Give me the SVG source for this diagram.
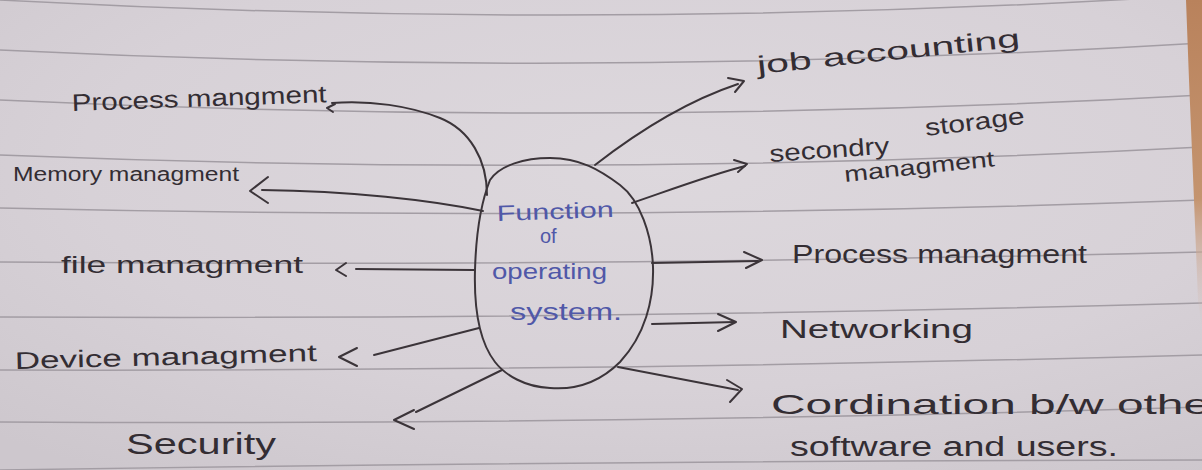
<svg xmlns="http://www.w3.org/2000/svg" width="1202" height="470" viewBox="0 0 1202 470">
  <defs>
    <radialGradient id="paper" cx="0.55" cy="0.35" r="0.8">
      <stop offset="0" stop-color="#ddd8dd"/>
      <stop offset="0.6" stop-color="#d7d1d7"/>
      <stop offset="1" stop-color="#cdc7cd"/>
    </radialGradient>
    <linearGradient id="edge" x1="0" y1="0" x2="0" y2="1">
      <stop offset="0" stop-color="#b9825c"/>
      <stop offset="0.6" stop-color="#c4946f"/>
      <stop offset="1" stop-color="#d6c3bf" stop-opacity="0"/>
    </linearGradient>
    <style>
      .rule { fill: none; stroke: #a39da4; stroke-width: 1.5; }
      .ink { font-family: "Liberation Sans", "DejaVu Sans", sans-serif; fill: #332d33; }
      .blue { font-family: "Liberation Sans", "DejaVu Sans", sans-serif; fill: #5058a8; }
      .wire { fill: none; stroke: #3b3439; stroke-width: 2; stroke-linecap: round; stroke-linejoin: round; }
    </style>
  </defs>

  <!-- notebook paper -->
  <rect width="1202" height="470" fill="url(#paper)"/>
  <g id="ruling">
    <path class="rule" d="M0 0 Q600 32.5 1202 -5"/>
    <path class="rule" d="M0 50 Q600 79.5 1202 43"/>
    <path class="rule" d="M0 100 Q600 128.5 1202 95"/>
    <path class="rule" d="M0 155 Q600 179 1202 147"/>
    <path class="rule" d="M0 208 Q600 222 1202 200"/>
    <path class="rule" d="M0 262 Q600 267 1202 252"/>
    <path class="rule" d="M0 317 Q600 320 1202 303"/>
    <path class="rule" d="M0 370 Q600 371.5 1202 355"/>
    <path class="rule" d="M0 422 Q600 425.5 1202 407"/>
    <path class="rule" d="M0 470 Q600 461 1202 460"/>
  </g>
  <!-- table edge showing past the page -->
  <path d="M1186 0 L1202 0 L1202 330 L1198 300 L1194 200 L1189 80 Z" fill="url(#edge)"/>

  <!-- connectors -->
  <g id="connectors">
    <!-- left side -->
    <path class="wire" d="M487 195 C487 160 470 130 440 118 C410 106 370 100 332 103"/>
    <path class="wire" d="M335 104 L327 108 L333 112"/>
    <path class="wire" d="M483 211 C430 200 350 191 262 190"/>
    <path class="wire" d="M268 177 L250 191 L268 203"/>
    <path class="wire" d="M356 269 L474 270"/>
    <path class="wire" d="M346 263 L336 270 L346 276"/>
    <path class="wire" d="M479 328 L374 355"/>
    <path class="wire" d="M357 348 L339 357 L357 366"/>
    <path class="wire" d="M502 370 L416 412"/>
    <path class="wire" d="M414 410 L394 420 L414 429"/>
    <!-- right side -->
    <path class="wire" d="M595 165 C640 130 690 100 738 84"/>
    <path class="wire" d="M728 78 L744 81 L735 92"/>
    <path class="wire" d="M632 203 C670 190 710 175 745 166"/>
    <path class="wire" d="M734 160 L747 164 L738 172"/>
    <path class="wire" d="M652 263 L758 261"/>
    <path class="wire" d="M744 252 L762 260 L746 268"/>
    <path class="wire" d="M652 324 L735 322"/>
    <path class="wire" d="M718 314 L736 322 L718 331"/>
    <path class="wire" d="M618 367 L738 390"/>
    <path class="wire" d="M727 380 L742 389 L730 402"/>
  </g>

  <!-- central blob -->
  <g id="center">
    <path class="wire" d="M550 158 C580 158 600 170 620 185 C640 200 652 235 653 267 C654 300 645 335 620 362 C600 382 575 390 550 388 C525 387 505 375 495 362 C478 340 474 305 475 270 C476 235 480 205 490 180 C500 165 525 158 550 158 Z"/>
    <text class="blue" x="497" y="221" font-size="22" textLength="117" lengthAdjust="spacingAndGlyphs" transform="rotate(-2 497 221)">Function</text>
    <text class="blue" x="540" y="243" font-size="20">of</text>
    <text class="blue" x="492" y="279" font-size="22" textLength="115" lengthAdjust="spacingAndGlyphs">operating</text>
    <text class="blue" x="510" y="320" font-size="23" textLength="112" lengthAdjust="spacingAndGlyphs">system.</text>
  </g>

  <!-- left branches -->
  <g id="process-left">
    <text class="ink" x="72" y="111" font-size="24" textLength="255" lengthAdjust="spacingAndGlyphs" transform="rotate(-2 72 111)">Process mangment</text>
  </g>
  <g id="memory">
    <text class="ink" x="13" y="181" font-size="20" textLength="226" lengthAdjust="spacingAndGlyphs">Memory managment</text>
  </g>
  <g id="file">
    <text class="ink" x="61" y="273" font-size="24" textLength="242" lengthAdjust="spacingAndGlyphs">file managment</text>
  </g>
  <g id="device">
    <text class="ink" x="15" y="369" font-size="24" textLength="302" lengthAdjust="spacingAndGlyphs" transform="rotate(-1.5 15 369)">Device managment</text>
  </g>
  <g id="security">
    <text class="ink" x="126" y="454" font-size="29" textLength="150" lengthAdjust="spacingAndGlyphs">Security</text>
  </g>

  <!-- right branches -->
  <g id="job">
    <text class="ink" x="758" y="74" font-size="25" textLength="264" lengthAdjust="spacingAndGlyphs" transform="rotate(-6 758 74)">job  accounting</text>
  </g>
  <g id="secondary">
    <text class="ink" x="770" y="162" font-size="24" textLength="120" lengthAdjust="spacingAndGlyphs" transform="rotate(-4 770 162)">secondry</text>
    <text class="ink" x="926" y="136" font-size="24" textLength="100" lengthAdjust="spacingAndGlyphs" transform="rotate(-7 926 136)">storage</text>
    <text class="ink" x="845" y="182" font-size="22" textLength="151" lengthAdjust="spacingAndGlyphs" transform="rotate(-6 845 182)">managment</text>
  </g>
  <g id="process-right">
    <text class="ink" x="792" y="263" font-size="25" textLength="295" lengthAdjust="spacingAndGlyphs">Process managment</text>
  </g>
  <g id="networking">
    <text class="ink" x="780" y="338" font-size="26" textLength="193" lengthAdjust="spacingAndGlyphs">Networking</text>
  </g>
  <g id="coordination">
    <text class="ink" x="771" y="414" font-size="28" textLength="455" lengthAdjust="spacingAndGlyphs">Cordination  b/w  other</text>
    <text class="ink" x="790" y="456" font-size="27" textLength="328" lengthAdjust="spacingAndGlyphs">software and users.</text>
  </g>
</svg>
